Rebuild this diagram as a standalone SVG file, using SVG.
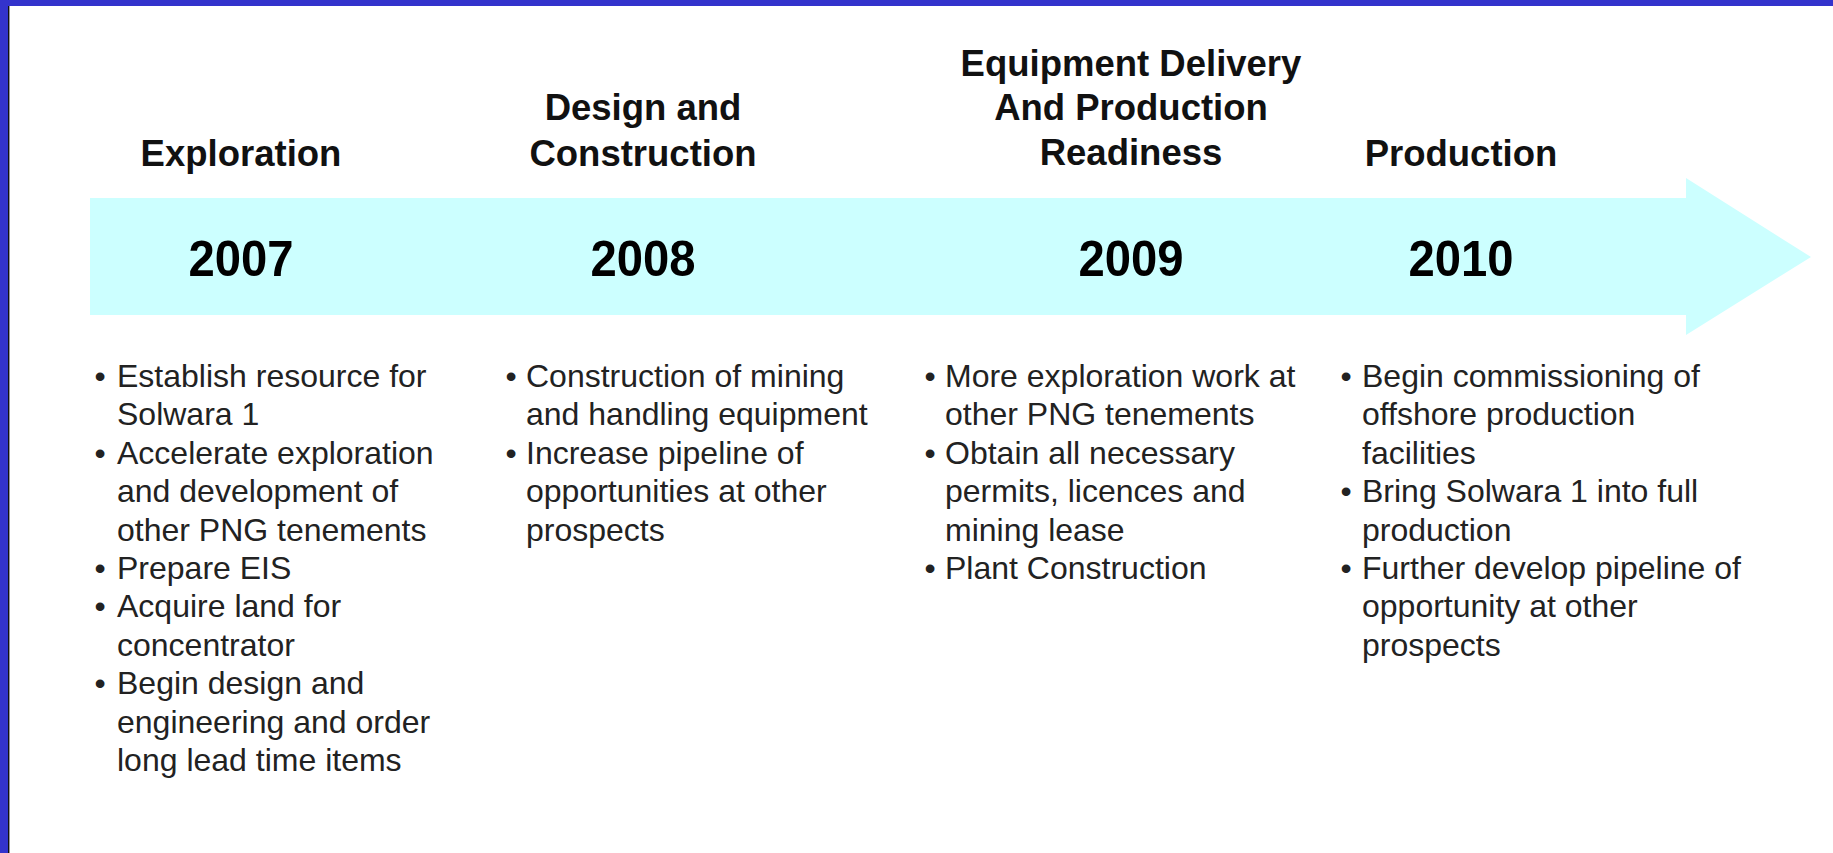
<svg xmlns="http://www.w3.org/2000/svg" width="1833" height="853" viewBox="0 0 1833 853">
<style>
.hd{font-family:"Liberation Sans",Arial,sans-serif;font-weight:bold;font-size:36.5px;fill:#111;text-anchor:middle}
.yr{font-family:"Liberation Sans",Arial,sans-serif;font-weight:bold;font-size:50px;fill:#000;text-anchor:middle}
.bt{font-family:"Liberation Sans",Arial,sans-serif;font-size:32px;fill:#222}
.bl{font-family:"Liberation Sans",Arial,sans-serif;font-size:32px;fill:#222;text-anchor:middle}
</style>
<rect x="0" y="0" width="1833" height="853" fill="#ffffff"/>
<rect x="0" y="0" width="1833" height="6" fill="#3333cc"/>
<rect x="0" y="0" width="8" height="853" fill="#3333cc"/>
<rect x="8" y="6" width="1" height="847" fill="#111"/>
<rect x="9" y="6" width="1" height="847" fill="#999"/>
<g id="timeline-arrow">
<polygon points="90,198 1686,198 1686,178 1811,257 1686,335 1686,315 90,315" fill="#ccffff"/>
</g>
<g id="phase-2007">
<text class="hd" x="241" y="166">Exploration</text>
<text class="yr" x="241" y="276" textLength="105" lengthAdjust="spacingAndGlyphs">2007</text>
<text class="bl" x="100" y="387">•</text>
<text class="bt" x="117" y="387">Establish resource for</text>
<text class="bt" x="117" y="425.4">Solwara 1</text>
<text class="bl" x="100" y="463.8">•</text>
<text class="bt" x="117" y="463.8">Accelerate exploration</text>
<text class="bt" x="117" y="502.2">and development of</text>
<text class="bt" x="117" y="540.6">other PNG tenements</text>
<text class="bl" x="100" y="579">•</text>
<text class="bt" x="117" y="579">Prepare EIS</text>
<text class="bl" x="100" y="617.4">•</text>
<text class="bt" x="117" y="617.4">Acquire land for</text>
<text class="bt" x="117" y="655.8">concentrator</text>
<text class="bl" x="100" y="694.2">•</text>
<text class="bt" x="117" y="694.2">Begin design and</text>
<text class="bt" x="117" y="732.6">engineering and order</text>
<text class="bt" x="117" y="771">long lead time items</text>
</g>
<g id="phase-2008">
<text class="hd" x="643" y="120">Design and</text>
<text class="hd" x="643" y="166">Construction</text>
<text class="yr" x="643" y="276" textLength="105" lengthAdjust="spacingAndGlyphs">2008</text>
<text class="bl" x="511" y="387">•</text>
<text class="bt" x="526" y="387">Construction of mining</text>
<text class="bt" x="526" y="425.4">and handling equipment</text>
<text class="bl" x="511" y="463.8">•</text>
<text class="bt" x="526" y="463.8">Increase pipeline of</text>
<text class="bt" x="526" y="502.2">opportunities at other</text>
<text class="bt" x="526" y="540.6">prospects</text>
</g>
<g id="phase-2009">
<text class="hd" x="1131" y="76">Equipment Delivery</text>
<text class="hd" x="1131" y="120">And Production</text>
<text class="hd" x="1131" y="165">Readiness</text>
<text class="yr" x="1131" y="276" textLength="105" lengthAdjust="spacingAndGlyphs">2009</text>
<text class="bl" x="930" y="387">•</text>
<text class="bt" x="945" y="387">More exploration work at</text>
<text class="bt" x="945" y="425.4">other PNG tenements</text>
<text class="bl" x="930" y="463.8">•</text>
<text class="bt" x="945" y="463.8">Obtain all necessary</text>
<text class="bt" x="945" y="502.2">permits, licences and</text>
<text class="bt" x="945" y="540.6">mining lease</text>
<text class="bl" x="930" y="579">•</text>
<text class="bt" x="945" y="579">Plant Construction</text>
</g>
<g id="phase-2010">
<text class="hd" x="1461" y="166">Production</text>
<text class="yr" x="1461" y="276" textLength="105" lengthAdjust="spacingAndGlyphs">2010</text>
<text class="bl" x="1346" y="387">•</text>
<text class="bt" x="1362" y="387">Begin commissioning of</text>
<text class="bt" x="1362" y="425.4">offshore production</text>
<text class="bt" x="1362" y="463.8">facilities</text>
<text class="bl" x="1346" y="502.2">•</text>
<text class="bt" x="1362" y="502.2">Bring Solwara 1 into full</text>
<text class="bt" x="1362" y="540.6">production</text>
<text class="bl" x="1346" y="579">•</text>
<text class="bt" x="1362" y="579">Further develop pipeline of</text>
<text class="bt" x="1362" y="617.4">opportunity at other</text>
<text class="bt" x="1362" y="655.8">prospects</text>
</g>
</svg>
